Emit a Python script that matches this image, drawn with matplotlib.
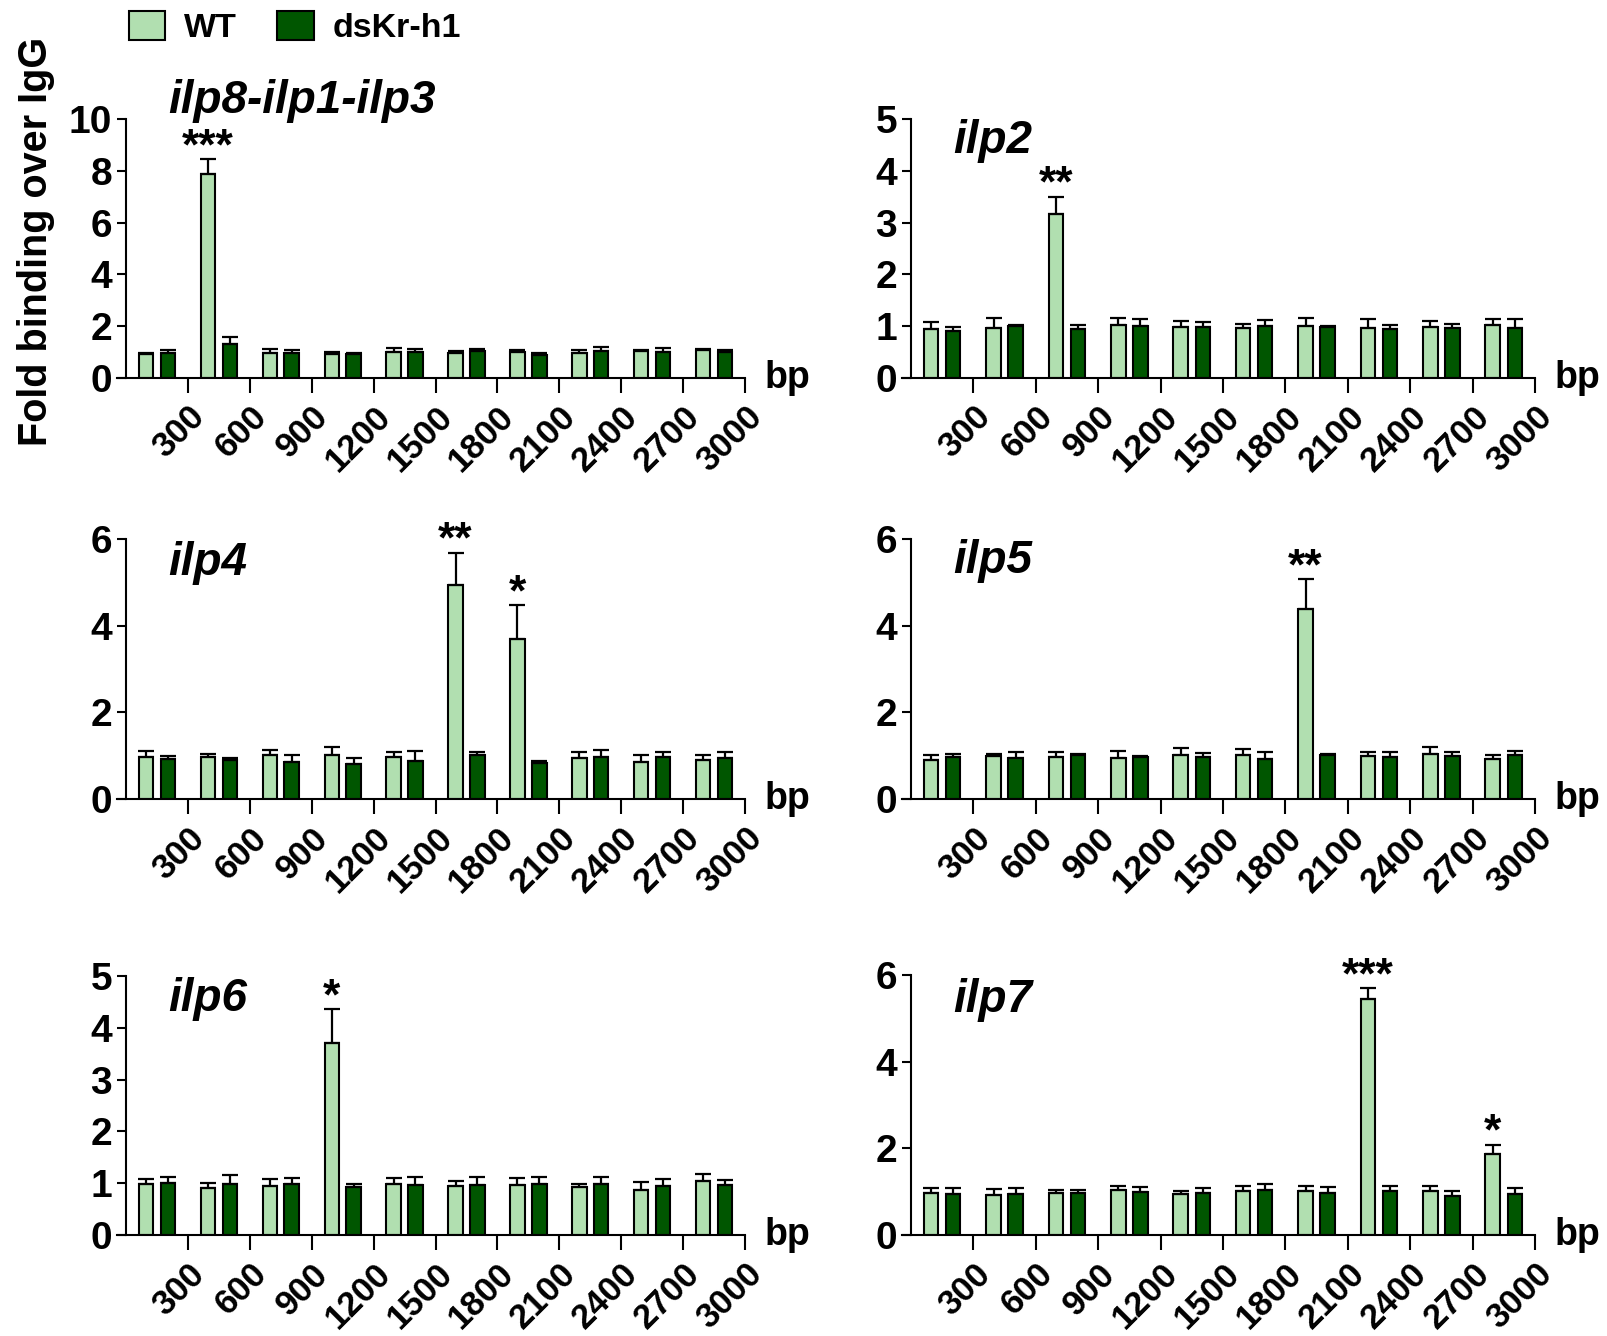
import numpy as np
import matplotlib
matplotlib.use('Agg')
import matplotlib.pyplot as plt

plt.rcParams['font.family'] = ['Liberation Sans', 'DejaVu Sans']
plt.rcParams['font.weight'] = 'bold'

# amplicon positions along the promoter (bp) and axis ticks
amplicon_bp = np.arange(150, 3000, 300)
tick_bp = np.arange(300, 3001, 300)

# fold binding over IgG: mean and SEM, WT vs dsKr-h1
ilp813_wt = [0.93, 7.88, 0.98, 0.93, 1.00, 0.95, 1.02, 0.98, 1.03, 1.07]
ilp813_wt_err = [0.04, 0.57, 0.14, 0.06, 0.15, 0.10, 0.06, 0.10, 0.05, 0.06]
ilp813_ds = [0.97, 1.33, 0.98, 0.92, 1.00, 1.03, 0.90, 1.05, 1.02, 1.02]
ilp813_ds_err = [0.10, 0.25, 0.10, 0.05, 0.10, 0.10, 0.05, 0.15, 0.14, 0.05]

ilp2_wt = [0.95, 0.97, 3.17, 1.02, 0.98, 0.97, 1.00, 0.97, 0.99, 1.02]
ilp2_wt_err = [0.13, 0.18, 0.33, 0.14, 0.12, 0.07, 0.15, 0.16, 0.11, 0.11]
ilp2_ds = [0.91, 1.00, 0.95, 1.00, 0.98, 1.00, 0.98, 0.95, 0.97, 0.97]
ilp2_ds_err = [0.07, 0.03, 0.07, 0.13, 0.10, 0.12, 0.03, 0.08, 0.07, 0.16]

ilp4_wt = [0.97, 0.96, 1.02, 1.02, 0.97, 4.93, 3.70, 0.95, 0.85, 0.90]
ilp4_wt_err = [0.13, 0.07, 0.12, 0.19, 0.11, 0.76, 0.78, 0.13, 0.17, 0.12]
ilp4_ds = [0.92, 0.91, 0.86, 0.82, 0.88, 1.02, 0.84, 0.97, 0.98, 0.94]
ilp4_ds_err = [0.08, 0.04, 0.16, 0.12, 0.22, 0.06, 0.04, 0.17, 0.10, 0.14]

ilp5_wt = [0.89, 1.00, 0.97, 0.95, 1.02, 1.02, 4.39, 1.00, 1.04, 0.92]
ilp5_wt_err = [0.12, 0.04, 0.12, 0.15, 0.15, 0.14, 0.69, 0.09, 0.17, 0.10]
ilp5_ds = [0.96, 0.94, 1.01, 0.96, 0.97, 0.93, 1.02, 0.97, 0.99, 1.02]
ilp5_ds_err = [0.08, 0.14, 0.03, 0.03, 0.09, 0.15, 0.03, 0.11, 0.10, 0.10]

ilp6_wt = [0.98, 0.91, 0.95, 3.70, 0.98, 0.95, 0.97, 0.92, 0.87, 1.04]
ilp6_wt_err = [0.10, 0.09, 0.14, 0.66, 0.12, 0.09, 0.13, 0.06, 0.15, 0.14]
ilp6_ds = [1.00, 0.98, 0.98, 0.92, 0.97, 0.97, 0.99, 0.99, 0.95, 0.97]
ilp6_ds_err = [0.11, 0.18, 0.12, 0.06, 0.14, 0.15, 0.13, 0.13, 0.13, 0.09]

ilp7_wt = [0.98, 0.92, 0.96, 1.05, 0.94, 1.02, 1.01, 5.44, 1.02, 1.87]
ilp7_wt_err = [0.11, 0.14, 0.08, 0.09, 0.08, 0.10, 0.11, 0.25, 0.11, 0.21]
ilp7_ds = [0.95, 0.95, 0.98, 0.99, 0.96, 1.03, 0.98, 1.02, 0.90, 0.95]
ilp7_ds_err = [0.14, 0.13, 0.06, 0.11, 0.12, 0.15, 0.12, 0.10, 0.11, 0.13]

# significance marks: (amplicon index, label)
ilp813_stars = [(1, '***')]
ilp2_stars = [(2, '**')]
ilp4_stars = [(5, '**'), (6, '*')]
ilp5_stars = [(6, '**')]
ilp6_stars = [(3, '*')]
ilp7_stars = [(7, '***'), (9, '*')]

wt_color = '#b1dfb0'
ds_color = '#005600'
bar_w = 70
offset = 53

panels = [
    ('ilp8-ilp1-ilp3', ilp813_wt, ilp813_wt_err, ilp813_ds, ilp813_ds_err, ilp813_stars, 10, 2, 1.023),
    ('ilp2', ilp2_wt, ilp2_wt_err, ilp2_ds, ilp2_ds_err, ilp2_stars, 5, 1, 0.869),
    ('ilp4', ilp4_wt, ilp4_wt_err, ilp4_ds, ilp4_ds_err, ilp4_stars, 6, 2, 0.862),
    ('ilp5', ilp5_wt, ilp5_wt_err, ilp5_ds, ilp5_ds_err, ilp5_stars, 6, 2, 0.869),
    ('ilp6', ilp6_wt, ilp6_wt_err, ilp6_ds, ilp6_ds_err, ilp6_stars, 5, 1, 0.865),
    ('ilp7', ilp7_wt, ilp7_wt_err, ilp7_ds, ilp7_ds_err, ilp7_stars, 6, 2, 0.858),
]

rects = [
    [0.0726, 0.7171, 0.3907, 0.1939],
    [0.5607, 0.7171, 0.3939, 0.1939],
    [0.0726, 0.4019, 0.3907, 0.1946],
    [0.5607, 0.4019, 0.3939, 0.1946],
    [0.0726, 0.0756, 0.3907, 0.1939],
    [0.5607, 0.0756, 0.3939, 0.1946],
]

fig = plt.figure(figsize=(16.08, 13.36), dpi=100)

handles = None
for rect, (name, wt, wt_err, ds, ds_err, stars, ymax, ystep, title_y) in zip(rects, panels):
    ax = fig.add_axes(rect)
    # y axis sits at 0 bp, the x axis pokes out a little to its left
    ax.spines['left'].set_position(('data', 0))
    ax.spines['left'].set_linewidth(1.5)
    ax.spines['bottom'].set_linewidth(1.5)
    ax.spines['top'].set_visible(False)
    ax.spines['right'].set_visible(False)
    ax.patch.set_visible(False)

    x_wt = amplicon_bp - offset
    x_ds = amplicon_bp + offset
    b1 = ax.bar(x_wt, wt, width=bar_w, color=wt_color, edgecolor='black', linewidth=1.5, zorder=2)
    b2 = ax.bar(x_ds, ds, width=bar_w, color=ds_color, edgecolor='black', linewidth=1.5, zorder=2)
    ax.errorbar(x_wt, wt, yerr=[np.zeros(len(wt)), wt_err], fmt='none', ecolor='black',
                elinewidth=1.6, capsize=6, capthick=1.6, zorder=3)
    ax.errorbar(x_ds, ds, yerr=[np.zeros(len(ds)), ds_err], fmt='none', ecolor='black',
                elinewidth=1.6, capsize=6, capthick=1.6, zorder=3)
    if handles is None:
        handles = [b1, b2]

    for i, lab in stars:
        ax.annotate(lab, xy=(x_wt[i], wt[i] + wt_err[i]), xytext=(0, 0),
                    textcoords='offset points', ha='center', va='baseline',
                    fontsize=32, fontweight='bold', annotation_clip=False)

    yt = np.arange(0, ymax + 0.1, ystep)
    ax.set_xlim(-45, 3000)
    ax.set_ylim(0, ymax)
    ax.set_yticks(yt)
    ax.set_yticklabels([str(int(v)) for v in yt], fontsize=28)
    ax.set_xticks(tick_bp)
    ax.set_xticklabels([str(t) for t in tick_bp], rotation=45, ha='right', va='top',
                       rotation_mode='anchor', fontsize=25)
    ax.tick_params(axis='y', direction='out', length=6.5, width=1.5, pad=3.5)
    ax.tick_params(axis='x', direction='out', length=11, width=1.5, pad=5)

    ax.text(0.082, title_y, name, transform=ax.transAxes, ha='left', va='baseline',
            fontsize=33, fontweight='bold', fontstyle='italic')
    ax.annotate('bp', xy=(1, 0), xycoords='axes fraction', xytext=(14, -7),
                textcoords='offset points', ha='left', va='baseline', fontsize=27)

fig.text(36 / 1608, 1 - 241 / 1336, 'Fold binding over IgG', rotation=90,
         ha='center', va='center', fontsize=28.5, fontweight='bold')

fig.legend(handles, ['WT', 'dsKr-h1'], loc='upper left', bbox_to_anchor=(0.080, 0.992),
           ncol=2, frameon=False, fontsize=24.5, handlelength=1.06, handleheight=0.95,
           handletextpad=0.56, columnspacing=1.2, borderpad=0, borderaxespad=0)

fig.savefig('out.png', dpi=100)
